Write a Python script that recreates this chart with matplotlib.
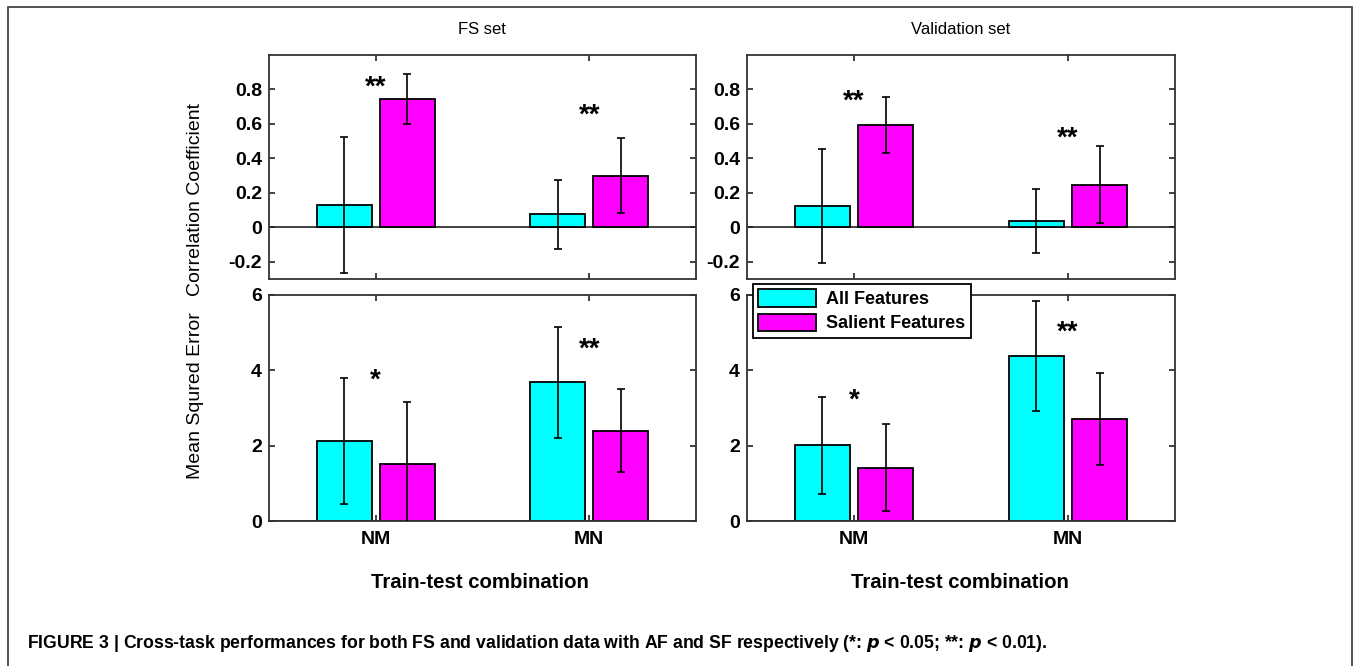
import numpy as np
import matplotlib
matplotlib.use('Agg')
import matplotlib.pyplot as plt
from matplotlib import font_manager
from matplotlib.patches import Rectangle

names = {f.name for f in font_manager.fontManager.ttflist}
narrow = 'Liberation Sans Narrow' if 'Liberation Sans Narrow' in names else 'Liberation Sans'
plt.rcParams['font.family'] = ['Liberation Sans', 'DejaVu Sans']

# data
cats = ['NM', 'MN']
series_names = ['All Features', 'Salient Features']

fs_cc_af = [0.13, 0.077]
fs_cc_af_err = [0.395, 0.20]
fs_cc_sf = [0.742, 0.30]
fs_cc_sf_err = [0.145, 0.217]
fs_cc_sig = ['**', '**']
fs_cc_sig_y = [0.81, 0.65]

val_cc_af = [0.122, 0.035]
val_cc_af_err = [0.33, 0.187]
val_cc_sf = [0.595, 0.248]
val_cc_sf_err = [0.162, 0.225]
val_cc_sig = ['**', '**']
val_cc_sig_y = [0.73, 0.515]

fs_mse_af = [2.13, 3.68]
fs_mse_af_err = [1.67, 1.47]
fs_mse_sf = [1.51, 2.40]
fs_mse_sf_err = [1.66, 1.11]
fs_mse_sig = ['*', '**']
fs_mse_sig_y = [3.72, 4.55]

val_mse_af = [2.01, 4.38]
val_mse_af_err = [1.29, 1.45]
val_mse_sf = [1.42, 2.71]
val_mse_sf_err = [1.16, 1.23]
val_mse_sig = ['*', '**']
val_mse_sig_y = [3.2, 4.99]

cc_ticks = [-0.2, 0, 0.2, 0.4, 0.6, 0.8]
cc_lab = ['-0.2', '0', '0.2', '0.4', '0.6', '0.8']
mse_ticks = [0, 2, 4, 6]
mse_lab = ['0', '2', '4', '6']

W, H = 1354, 666
fig = plt.figure(figsize=(W / 100, H / 100), dpi=100)

def px(x0, y0, x1, y1):
    return [x0 / W, 1 - y1 / H, (x1 - x0) / W, (y1 - y0) / H]

ax_tl = fig.add_axes(px(269, 55, 696, 279))
ax_tr = fig.add_axes(px(747, 55, 1175, 279))
ax_bl = fig.add_axes(px(269, 295, 696, 521))
ax_br = fig.add_axes(px(747, 295, 1175, 521))

x = np.arange(1, len(cats) + 1)
off = 0.148
bw = 0.257

def panel(ax, af, af_err, sf, sf_err, sig, sig_y, ylim, ticks, ticklabels, bottom):
    b1 = ax.bar(x - off, af, bw, color='#00ffff', edgecolor='black', linewidth=1.3, zorder=2)
    b2 = ax.bar(x + off, sf, bw, color='#ff00ff', edgecolor='black', linewidth=1.3, zorder=2)
    ax.errorbar(x - off, af, yerr=af_err, fmt='none', ecolor='black', elinewidth=1.2, capsize=3, capthick=1.2, zorder=3)
    ax.errorbar(x + off, sf, yerr=sf_err, fmt='none', ecolor='black', elinewidth=1.2, capsize=3, capthick=1.2, zorder=3)
    ax.axhline(0, color='#222222', linewidth=1.2, zorder=1)
    for xi, s, yi in zip(x, sig, sig_y):
        ax.text(xi, yi, s, ha='center', va='center', fontsize=20, fontweight='bold', zorder=4)
    ax.set_xlim(0.5, 2.5)
    ax.set_ylim(*ylim)
    ax.set_yticks(ticks)
    ax.set_yticklabels(ticklabels, fontfamily=narrow, fontweight='bold', fontsize=14)
    ax.set_xticks(x)
    if bottom:
        ax.set_xticklabels(cats, fontweight='bold', fontsize=14)
    else:
        ax.set_xticklabels([])
    ax.tick_params(axis='y', pad=5)
    ax.tick_params(axis='x', pad=7)
    ax.tick_params(direction='in', length=4, width=1.2, top=True, right=True, colors='#222222', labelcolor='black')
    for sp in ax.spines.values():
        sp.set_linewidth(1.3)
        sp.set_color('#333333')
    return b1, b2

panel(ax_tl, fs_cc_af, fs_cc_af_err, fs_cc_sf, fs_cc_sf_err, fs_cc_sig, fs_cc_sig_y, (-0.3, 1.0), cc_ticks, cc_lab, False)
panel(ax_tr, val_cc_af, val_cc_af_err, val_cc_sf, val_cc_sf_err, val_cc_sig, val_cc_sig_y, (-0.3, 1.0), cc_ticks, cc_lab, False)
panel(ax_bl, fs_mse_af, fs_mse_af_err, fs_mse_sf, fs_mse_sf_err, fs_mse_sig, fs_mse_sig_y, (0, 6), mse_ticks, mse_lab, True)
b1, b2 = panel(ax_br, val_mse_af, val_mse_af_err, val_mse_sf, val_mse_sf_err, val_mse_sig, val_mse_sig_y, (0, 6), mse_ticks, mse_lab, True)

leg = fig.legend([b1, b2], series_names, loc='upper left', bbox_to_anchor=(753 / W, 1 - 284 / H),
                 fancybox=False, framealpha=1, edgecolor='black',
                 prop={'weight': 'bold', 'size': 13}, handlelength=3.2, handleheight=1.1,
                 borderpad=0.3, labelspacing=0.3, handletextpad=0.55, borderaxespad=0)
leg.get_frame().set_linewidth(1.3)

fig.text(482 / W, 1 - 30 / H, 'FS set', ha='center', va='center', fontsize=12)
fig.text(961 / W, 1 - 30 / H, 'Validation set', ha='center', va='center', fontsize=12)
fig.text(196 / W, 1 - 199 / H, 'Correlation Coefficient', rotation=90, ha='center', va='center', fontsize=14)
fig.text(196 / W, 1 - 312 / H, 'Mean Squred Error', rotation=90, ha='center', va='top', fontsize=14)
fig.text(480 / W, 1 - 583 / H, 'Train-test combination', ha='center', va='center', fontsize=14.7, fontweight='bold')
fig.text(960 / W, 1 - 583 / H, 'Train-test combination', ha='center', va='center', fontsize=14.7, fontweight='bold')

fig.text(27 / W, 1 - 643 / H,
         r'FIGURE 3 | Cross-task performances for both FS and validation data with AF and SF respectively (*: $\boldsymbol{p}$ < 0.05; **: $\boldsymbol{p}$ < 0.01).',
         ha='left', va='center', fontsize=12.7, fontweight='bold')

fig.patches.append(Rectangle((8 / W, -0.01), (1352 - 8) / W, 1.01 - 7 / H, transform=fig.transFigure,
                             fill=False, edgecolor='#444444', linewidth=1.3))

fig.savefig('out.png', dpi=100)
